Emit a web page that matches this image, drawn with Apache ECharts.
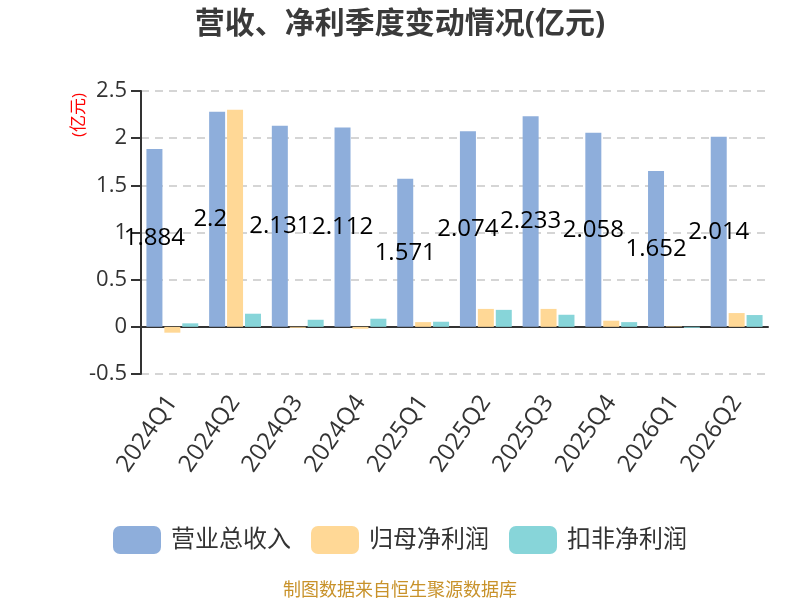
<!DOCTYPE html>
<html>
<head>
<meta charset="utf-8">
<script src="https://cdn.jsdelivr.net/npm/echarts@6/dist/echarts.min.js"></script>
<style>
  html, body { margin: 0; padding: 0; }
  #main { width: 800px; height: 600px; }
</style>
</head>
<body>
<div id="main"></div>
<script>
// 季度
var quarters = ['2024Q1', '2024Q2', '2024Q3', '2024Q4', '2025Q1', '2025Q2', '2025Q3', '2025Q4', '2026Q1', '2026Q2'];
// 营业总收入(亿元)
var revenue = [1.884, 2.28, 2.131, 2.112, 1.571, 2.074, 2.233, 2.058, 1.652, 2.014];
// 归母净利润(亿元)
var netProfit = [-0.062, 2.30, -0.01, -0.02, 0.05, 0.19, 0.19, 0.065, 0.005, 0.146];
// 扣非净利润(亿元)
var deductedProfit = [0.037, 0.139, 0.075, 0.086, 0.054, 0.18, 0.128, 0.05, -0.01, 0.125];
var yTicks = { min: -0.5, max: 2.5, interval: 0.5 };

var font = "'Open Sans', 'Noto Sans CJK SC', sans-serif";
var myChart = echarts.init(document.getElementById('main'));

var option = {
    textStyle: { fontFamily: font },
    title: [
        {
            text: '营收、净利季度变动情况(亿元)',
            left: 'center',
            top: 4,
            textStyle: { fontSize: 30, fontWeight: 'bold', color: '#3a3a3a', fontFamily: font }
        },
        {
            text: '制图数据来自恒生聚源数据库',
            left: 'center',
            top: 577,
            textStyle: { fontSize: 18, fontWeight: 'normal', color: '#c8922a', fontFamily: font }
        }
    ],
    legend: {
        top: 521,
        left: 'center',
        itemWidth: 48,
        itemHeight: 28,
        itemGap: 20,
        textStyle: { fontSize: 24, color: '#333', padding: [0, 0, 0, 5] },
        data: ['营业总收入', '归母净利润', '扣非净利润']
    },
    grid: { left: 141, right: 32, top: 91, bottom: 226 },
    graphic: [{
        type: 'text',
        left: 71,
        top: 93,
        rotation: Math.PI / 2,
        style: { text: '(亿元)', fill: 'red', fontSize: 17, fontFamily: font }
    }],
    xAxis: {
        type: 'category',
        data: quarters,
        axisLine: { lineStyle: { color: '#333', width: 2 } },
        axisTick: { length: 10, lineStyle: { color: '#333', width: 2 } },
        axisLabel: { rotate: 55, fontSize: 24, color: '#333', margin: 24 }
    },
    yAxis: {
        type: 'value',
        min: yTicks.min,
        max: yTicks.max,
        interval: yTicks.interval,
        axisLine: { show: true, lineStyle: { color: '#333', width: 2 } },
        axisTick: { show: true, length: 10, lineStyle: { color: '#333', width: 2 } },
        axisLabel: { fontSize: 22, color: '#333', margin: 14 },
        splitLine: { lineStyle: { type: [8, 6], color: '#c8c8c8', width: 1.5 } }
    },
    series: [
        {
            name: '营业总收入',
            type: 'bar',
            data: revenue,
            barWidth: 16,
            barGap: '12%',
            z: 2,
            itemStyle: { color: '#8eaedb' },
            label: { show: true, position: 'inside', color: '#000', fontSize: 24 }
        },
        {
            name: '归母净利润',
            type: 'bar',
            data: netProfit,
            barWidth: 16,
            z: 3,
            itemStyle: { color: '#ffd896' }
        },
        {
            name: '扣非净利润',
            type: 'bar',
            data: deductedProfit,
            barWidth: 16,
            z: 3,
            itemStyle: { color: '#87d5d9' }
        }
    ]
};

myChart.setOption(option);
</script>
</body>
</html>
